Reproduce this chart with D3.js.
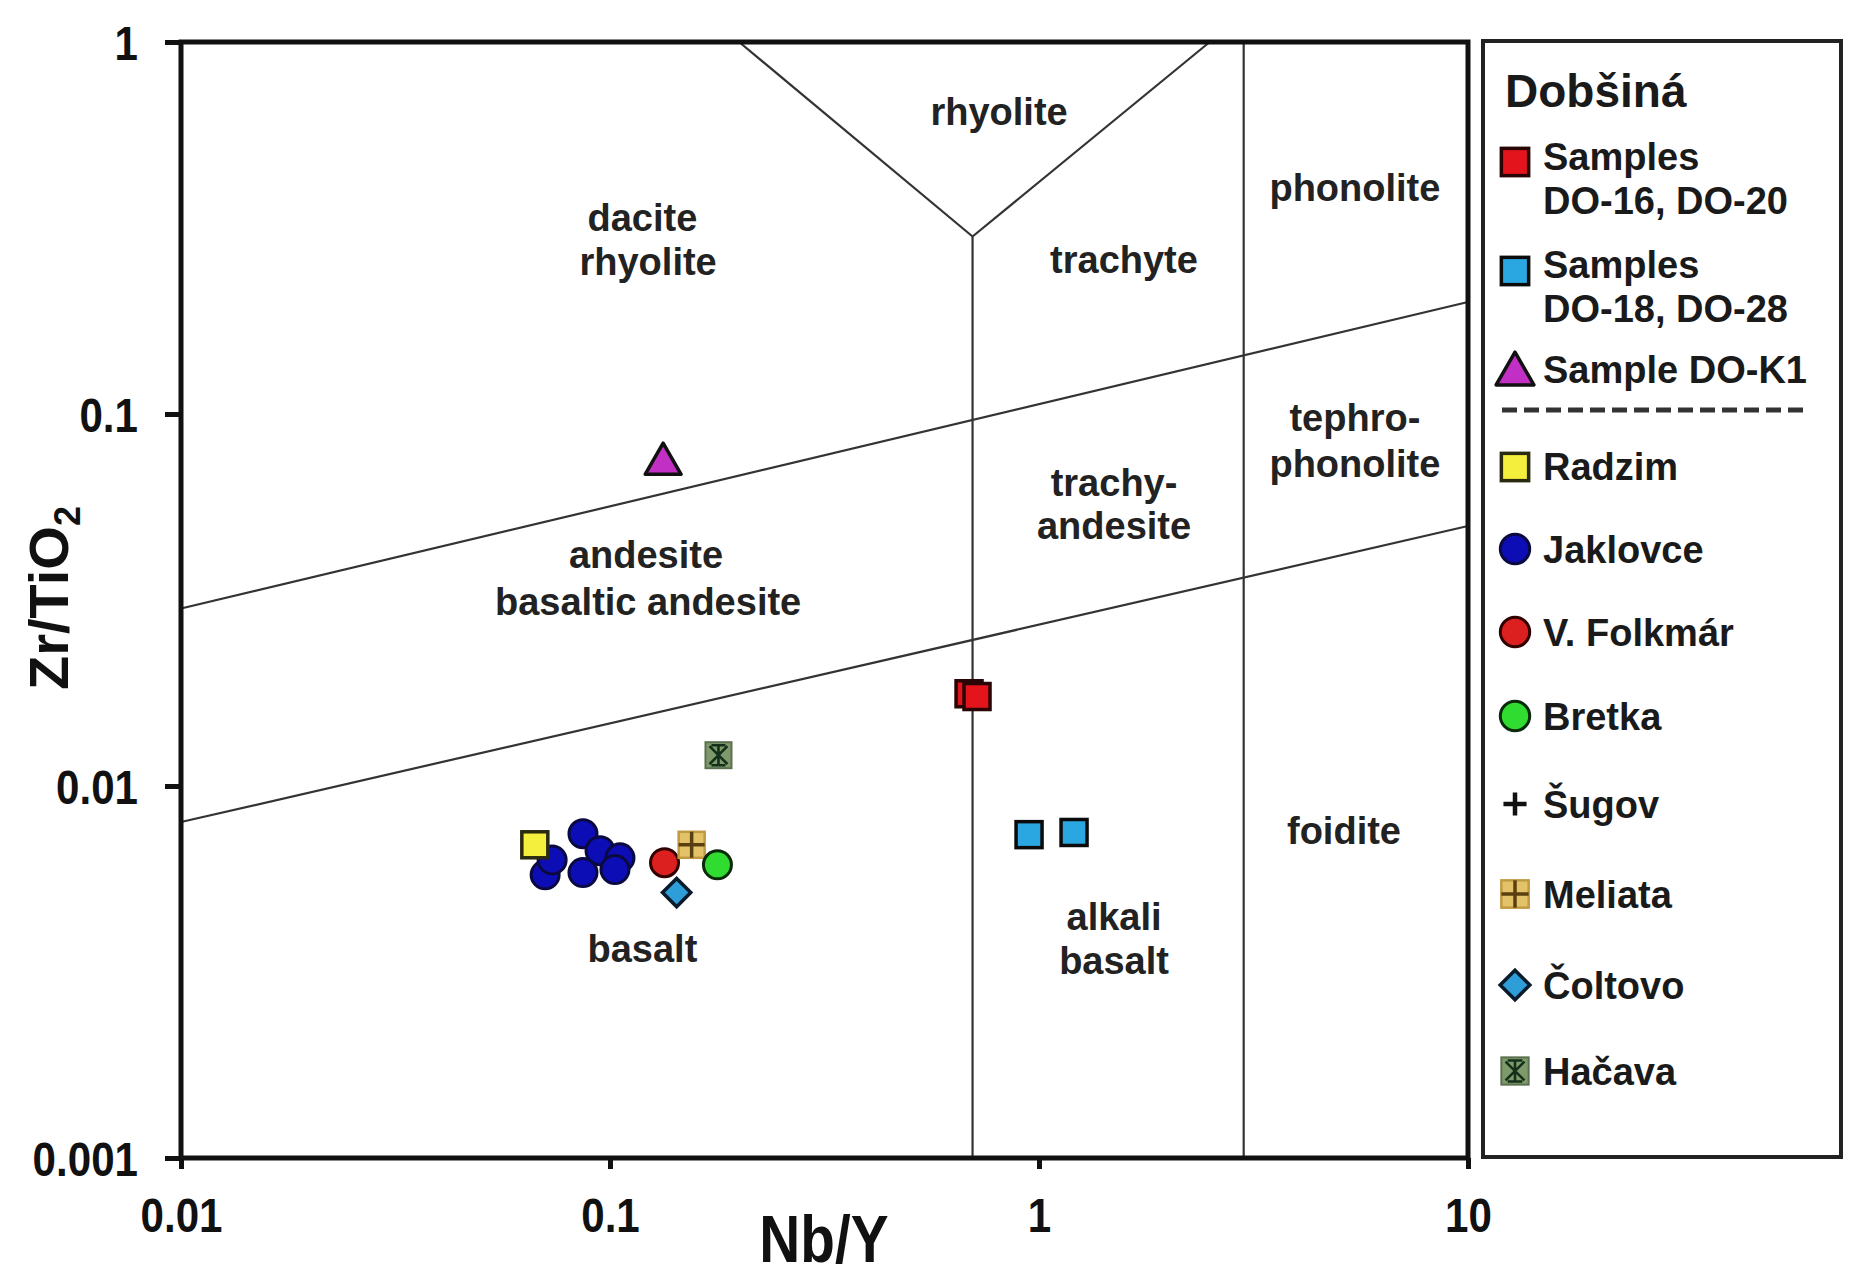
<!DOCTYPE html>
<html>
<head>
<meta charset="utf-8">
<script src="https://cdn.jsdelivr.net/npm/d3@7"></script>
<style>
  html, body { margin: 0; padding: 0; background: #fff; }
  svg { display: block; font-family: "Liberation Sans", Arial, sans-serif; }
</style>
</head>
<body>
<svg id="chart" width="1864" height="1281"></svg>
<script>
// ---------- data ----------
const xTicks = [0.01, 0.1, 1, 10];
const yTicks = [0.001, 0.01, 0.1, 1];
const xTickLabels = ["0.01", "0.1", "1", "10"];
const yTickLabels = ["0.001", "0.01", "0.1", "1"];

const categories = ["Samples DO-16, DO-20", "Samples DO-18, DO-28", "Sample DO-K1",
  "Radzim", "Jaklovce", "V. Folkmár", "Bretka", "Šugov", "Meliata", "Čoltovo", "Hačava"];

const do1620X = [0.687, 0.717];
const do1620Y = [0.0177, 0.0174];
const do1828X = [0.948, 1.207];
const do1828Y = [0.0074, 0.0075];
const dok1X = [0.133];
const dok1Y = [0.0734];
const radzimX = [0.0668];
const radzimY = [0.00695];
const jaklovceX = [0.0706, 0.0733, 0.0865, 0.0865, 0.0948, 0.1055, 0.1027];
const jaklovceY = [0.00577, 0.00633, 0.00744, 0.00585, 0.00670, 0.00641, 0.00596];
const folkmarX = [0.134];
const folkmarY = [0.00622];
const bretkaX = [0.178];
const bretkaY = [0.00614];
const sugovX = [];
const sugovY = [];
const meliataX = [0.155];
const meliataY = [0.00695];
const coltovoX = [0.143];
const coltovoY = [0.00517];
const hacavaX = [0.179];
const hacavaY = [0.0121];

// field boundary lines (Nb/Y, Zr/TiO2)
const boundaryLines = [
  [[0.01, 0.03], [10, 0.2]],
  [[0.01, 0.008], [10, 0.05]],
  [[0.7, 0.001], [0.7, 0.3]],
  [[0.7, 0.3], [0.2, 1]],
  [[0.7, 0.3], [2.5, 1]],
  [[3, 0.001], [3, 1]]
];

// field names: [text, Nb/Y, Zr/TiO2 at text centre]
const fieldNames = [
  ["rhyolite", 0.807, 0.653],
  ["dacite", 0.119, 0.337],
  ["rhyolite", 0.1227, 0.257],
  ["trachyte", 1.578, 0.260],
  ["phonolite", 5.45, 0.406],
  ["tephro-", 5.45, 0.0982],
  ["phonolite", 5.45, 0.0739],
  ["trachy-", 1.496, 0.0657],
  ["andesite", 1.496, 0.0501],
  ["andesite", 0.1213, 0.0419],
  ["basaltic andesite", 0.1227, 0.0313],
  ["foidite", 5.14, 0.00762],
  ["alkali", 1.496, 0.00446],
  ["basalt", 1.496, 0.00340],
  ["basalt", 0.119, 0.00366]
];

// ---------- styles ----------
const styles = {
  "Samples DO-16, DO-20": {shape: "square", fill: "#e3141b", stroke: "#2a0505"},
  "Samples DO-18, DO-28": {shape: "square", fill: "#2aa6e0", stroke: "#0b0b0b"},
  "Sample DO-K1": {shape: "triangle", fill: "#c22fc4", stroke: "#111"},
  "Radzim": {shape: "square", fill: "#f4ee3c", stroke: "#2a2a10"},
  "Jaklovce": {shape: "circle", fill: "#0d0db5", stroke: "#0a0a40"},
  "V. Folkmár": {shape: "circle", fill: "#dc1f1f", stroke: "#300"},
  "Bretka": {shape: "circle", fill: "#2fdc2f", stroke: "#0a2a0a"},
  "Šugov": {shape: "plus", fill: "#111", stroke: "#111"},
  "Meliata": {shape: "meliata", fill: "#e3c26a", stroke: "#c09a40"},
  "Čoltovo": {shape: "diamond", fill: "#2e9ed8", stroke: "#0b1b2b"},
  "Hačava": {shape: "hacava", fill: "#7f9a6a", stroke: "#5c7050"}
};

const series = [
  ["Jaklovce", jaklovceX, jaklovceY],
  ["Radzim", radzimX, radzimY],
  ["V. Folkmár", folkmarX, folkmarY],
  ["Meliata", meliataX, meliataY],
  ["Bretka", bretkaX, bretkaY],
  ["Čoltovo", coltovoX, coltovoY],
  ["Hačava", hacavaX, hacavaY],
  ["Šugov", sugovX, sugovY],
  ["Samples DO-16, DO-20", do1620X, do1620Y],
  ["Samples DO-18, DO-28", do1828X, do1828Y],
  ["Sample DO-K1", dok1X, dok1Y]
];

// ---------- scales ----------
const svg = d3.select("#chart");
const x = d3.scaleLog().domain([0.01, 10]).range([181, 1468]);
const y = d3.scaleLog().domain([0.001, 1]).range([1158, 42]);

// boundary lines
const line = d3.line().x(d => x(d[0])).y(d => y(d[1]));
svg.append("g").selectAll("path").data(boundaryLines).join("path")
  .attr("d", line).attr("fill", "none").attr("stroke", "#333").attr("stroke-width", 2.2);

// field names
svg.append("g").selectAll("text").data(fieldNames).join("text")
  .attr("x", d => x(d[1])).attr("y", d => y(d[2])).attr("dy", "0.36em")
  .attr("text-anchor", "middle").attr("font-size", 38).attr("font-weight", "bold")
  .attr("fill", "#222").text(d => d[0]);

// marker drawing
function drawMarker(g, shape, st, scale) {
  const s = scale || 1;
  if (shape === "circle") {
    g.append("circle").attr("r", 14 * s).attr("fill", st.fill).attr("stroke", st.stroke).attr("stroke-width", 3);
  } else if (shape === "square") {
    g.append("rect").attr("x", -13 * s).attr("y", -13 * s).attr("width", 26 * s).attr("height", 26 * s)
      .attr("fill", st.fill).attr("stroke", st.stroke).attr("stroke-width", 3.5);
  } else if (shape === "triangle") {
    g.append("path").attr("d", d3.symbol(d3.symbolTriangle, 560 * s * s)())
      .attr("fill", st.fill).attr("stroke", st.stroke).attr("stroke-width", 3.5).attr("stroke-linejoin", "round");
  } else if (shape === "diamond") {
    g.append("rect").attr("x", -10 * s).attr("y", -10 * s).attr("width", 20 * s).attr("height", 20 * s)
      .attr("transform", "rotate(45)")
      .attr("fill", st.fill).attr("stroke", st.stroke).attr("stroke-width", 3.5);
  } else if (shape === "plus") {
    g.append("path").attr("d", `M${-11 * s},0H${11 * s}M0,${-11 * s}V${11 * s}`)
      .attr("stroke", st.stroke).attr("stroke-width", 4.5);
  } else if (shape === "meliata") {
    g.append("rect").attr("x", -13 * s).attr("y", -13 * s).attr("width", 26 * s).attr("height", 26 * s)
      .attr("fill", st.fill).attr("stroke", st.stroke).attr("stroke-width", 2.5);
    g.append("path").attr("d", `M${-13 * s},0H${13 * s}M0,${-13 * s}V${13 * s}`)
      .attr("stroke", "#5a4010").attr("stroke-width", 3.5);
  } else if (shape === "hacava") {
    g.append("rect").attr("x", -13 * s).attr("y", -13 * s).attr("width", 26 * s).attr("height", 26 * s)
      .attr("fill", st.fill).attr("stroke", st.stroke).attr("stroke-width", 2);
    g.append("path").attr("d", `M${-9 * s},${-9 * s}L${9 * s},${9 * s}M${9 * s},${-9 * s}L${-9 * s},${9 * s}M0,${-11 * s}V${11 * s}M${-7 * s},${-10 * s}H${7 * s}M${-7 * s},${10 * s}H${7 * s}`)
      .attr("stroke", "#14301a").attr("stroke-width", 2.6);
  }
}

// data points
const ptsG = svg.append("g");
series.forEach(([name, xs, ys]) => {
  const st = styles[name];
  xs.forEach((xv, i) => {
    const g = ptsG.append("g").attr("transform", `translate(${x(xv)},${y(ys[i])})`);
    drawMarker(g, st.shape, st, 1);
  });
});

// plot frame
svg.append("rect").attr("x", x(0.01)).attr("y", y(1))
  .attr("width", x(10) - x(0.01)).attr("height", y(0.001) - y(1))
  .attr("fill", "none").attr("stroke", "#111").attr("stroke-width", 5);

// axes
const fmtX = d => xTickLabels[xTicks.indexOf(d)];
const fmtY = d => yTickLabels[yTicks.indexOf(d)];
const sx = 0.86;

const xAxis = svg.append("g").attr("transform", `translate(0,${y(0.001)})`)
  .call(d3.axisBottom(x).tickValues(xTicks).tickFormat(fmtX).tickSize(11));
xAxis.select(".domain").remove();
xAxis.selectAll("line").attr("stroke", "#111").attr("stroke-width", 5);
xAxis.selectAll("text").attr("y", 74).attr("dy", 0)
  .attr("font-size", 49).attr("font-weight", "bold").attr("fill", "#111")
  .attr("font-family", "'Liberation Sans', Arial, sans-serif")
  .attr("transform", `scale(${sx},1)`);

const yAxis = svg.append("g").attr("transform", `translate(${x(0.01)},0)`)
  .call(d3.axisLeft(y).tickValues(yTicks).tickFormat(fmtY).tickSize(16));
yAxis.select(".domain").remove();
yAxis.selectAll("line").attr("stroke", "#111").attr("stroke-width", 5);
yAxis.selectAll("text").attr("x", -43 / sx).attr("dy", "0.36em")
  .attr("font-size", 49).attr("font-weight", "bold").attr("fill", "#111")
  .attr("font-family", "'Liberation Sans', Arial, sans-serif")
  .attr("transform", `scale(${sx},1)`);

// axis titles
const yt = svg.append("text").attr("transform", "translate(68,598) rotate(-90)")
  .attr("text-anchor", "middle").attr("font-size", 56).attr("font-weight", "bold").attr("fill", "#111");
yt.append("tspan").text("Zr/TiO");
yt.append("tspan").attr("font-size", 36).attr("dy", 12).text("2");

svg.append("text").attr("transform", "translate(824,1262) scale(0.86,1)")
  .attr("text-anchor", "middle").attr("font-size", 66).attr("font-weight", "bold").attr("fill", "#111")
  .text("Nb/Y");

// ---------- legend ----------
const lg = svg.append("g");
lg.append("rect").attr("x", 1483).attr("y", 41).attr("width", 358).attr("height", 1116)
  .attr("fill", "#fff").attr("stroke", "#222").attr("stroke-width", 4);
lg.append("text").attr("x", 1505).attr("y", 107).attr("font-size", 46).attr("font-weight", "bold")
  .attr("fill", "#1a1a1a").text("Dobšiná");

const legendItems = [
  {name: "Samples DO-16, DO-20", lines: ["Samples", "DO-16, DO-20"], cy: 162, base: 170},
  {name: "Samples DO-18, DO-28", lines: ["Samples", "DO-18, DO-28"], cy: 271, base: 278},
  {name: "Sample DO-K1", lines: ["Sample DO-K1"], cy: 374, base: 383},
  {name: "Radzim", lines: ["Radzim"], cy: 467, base: 480},
  {name: "Jaklovce", lines: ["Jaklovce"], cy: 549, base: 563},
  {name: "V. Folkmár", lines: ["V. Folkmár"], cy: 632, base: 646},
  {name: "Bretka", lines: ["Bretka"], cy: 716, base: 730},
  {name: "Šugov", lines: ["Šugov"], cy: 804, base: 818},
  {name: "Meliata", lines: ["Meliata"], cy: 894, base: 908},
  {name: "Čoltovo", lines: ["Čoltovo"], cy: 985, base: 999},
  {name: "Hačava", lines: ["Hačava"], cy: 1071, base: 1085}
];
legendItems.forEach(it => {
  const st = styles[it.name];
  const g = lg.append("g").attr("transform", `translate(1515,${it.cy})`);
  drawMarker(g, st.shape, st, 1.05);
  const t = lg.append("text").attr("x", 1543).attr("y", it.base).attr("font-size", 38)
    .attr("font-weight", "bold").attr("fill", "#1a1a1a");
  it.lines.forEach((l, i) => {
    t.append("tspan").attr("x", 1543).attr("dy", i === 0 ? 0 : 44).text(l);
  });
});
lg.append("line").attr("x1", 1502).attr("x2", 1805).attr("y1", 410).attr("y2", 410)
  .attr("stroke", "#333").attr("stroke-width", 5).attr("stroke-dasharray", "15,7");
</script>
</body>
</html>
